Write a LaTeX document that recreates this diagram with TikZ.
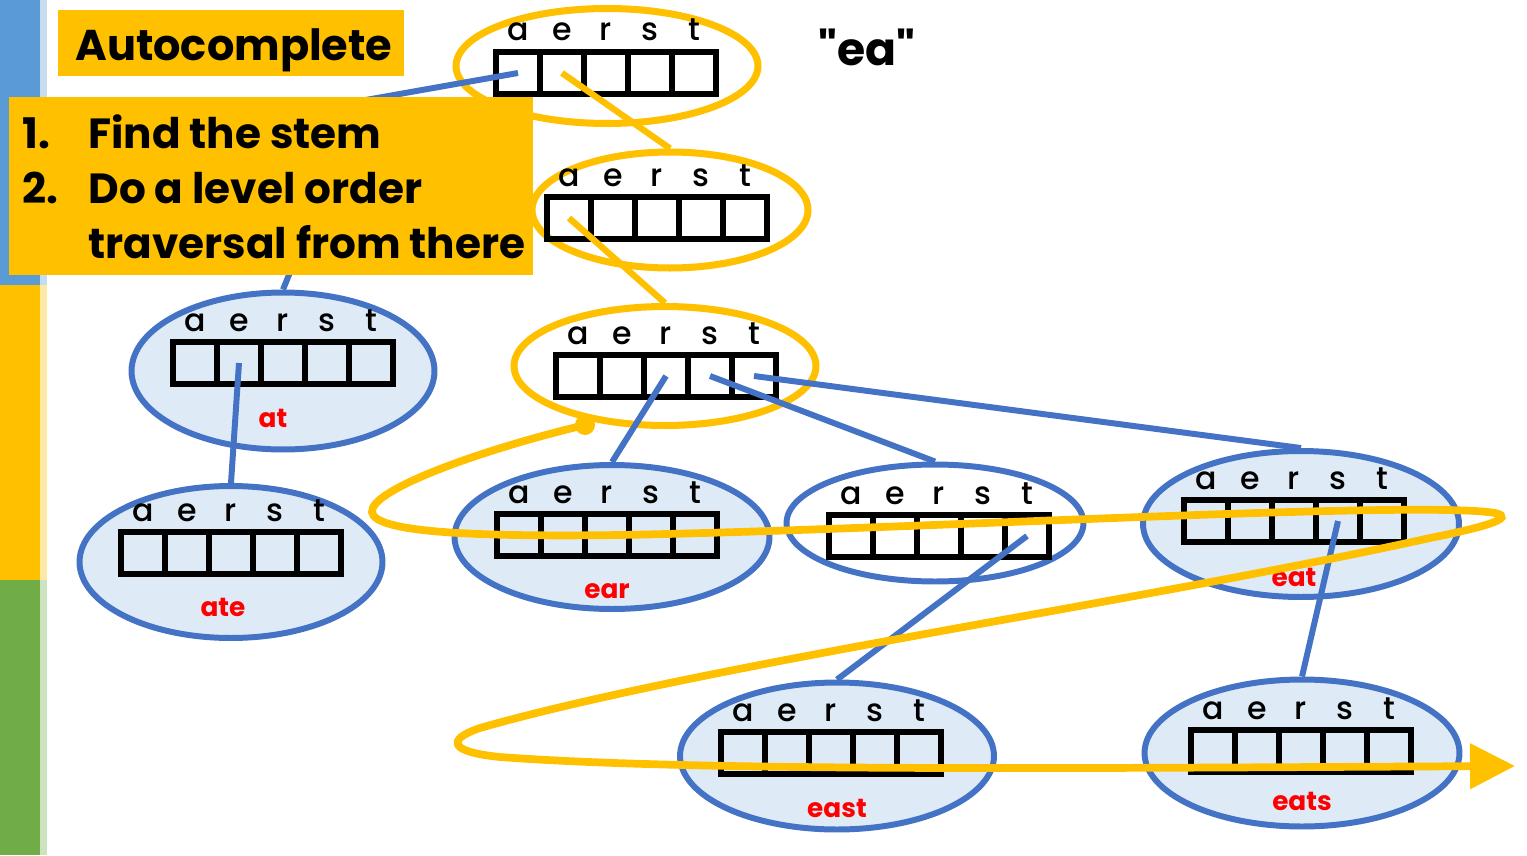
\documentclass[tikz,border=0pt]{standalone}
\usepackage{fontspec}
\setmainfont{Poppins}
\newfontfamily\medfont{Poppins Medium}
\newfontfamily\quotefont{Poppins}[Ligatures=TeXOff]
\usepackage{tikz}
\usetikzlibrary{shapes.geometric,arrows.meta}
\definecolor{tyellow}{HTML}{FFC000}
\definecolor{tblue}{HTML}{4472C4}
\definecolor{tfill}{HTML}{DEEBF7}
\definecolor{barblue}{HTML}{5B9BD5}
\definecolor{bargreen}{HTML}{70AD47}
\tikzset{
  trie/.style={ellipse,draw=tblue,fill=tfill,line width=3.4pt,inner sep=0pt},
  stem/.style={ellipse,draw=tyellow,fill=white,line width=4pt,inner sep=0pt},
  cell/.style={rectangle,draw,line width=3pt,minimum width=0.88cm,minimum height=0.84cm,inner sep=0pt},
  letter/.style={anchor=base,inner sep=0pt,font=\medfont\fontsize{18}{18}\selectfont},
  word/.style={text=red,inner sep=0pt,font=\bfseries\fontsize{15}{15}\selectfont},
  link/.style={tblue,line width=3.4pt},
  stemlink/.style={tyellow,line width=3.6pt},
  trav/.style={tyellow,line width=4.4pt,line cap=round},
  banner/.style={fill=tyellow,inner sep=0pt},
  big/.style={anchor=base west,inner sep=0pt,font=\bfseries\fontsize{24}{24}\selectfont}
}
% one row of five cells with the letters on top
\newcommand{\trierow}[3]{%
  \foreach \c [count=\i] in {a,e,r,s,t}{
    \node[cell] (#1-\c) at ({#2+44*(\i-3)},#3) {};
    \node[letter] (#1-l\c) at ({#2+44*(\i-3)},{#3-32}) {\c};
  }%
}
\begin{document}
\begin{tikzpicture}[x=0.02cm,y=-0.02cm]
  \useasboundingbox (0,0) rectangle (1527,855);

  % side bar
  \fill[barblue] (0,0) rectangle (40,285);
  \fill[tyellow] (0,285) rectangle (40,580);
  \fill[bargreen] (0,580) rectangle (40,855);
  \fill[barblue!35] (40,0) rectangle (47,285);
  \fill[tyellow!35] (40,285) rectangle (47,580);
  \fill[bargreen!35] (40,580) rectangle (47,855);

  % trie nodes
  \node[stem,minimum width=6.04cm,minimum height=2.30cm] (root) at (607,66) {};
  \node[stem,minimum width=5.52cm,minimum height=2.32cm] (a) at (670,210) {};
  \node[stem,minimum width=6.04cm,minimum height=2.38cm] (ea) at (665,366) {};
  \node[trie,minimum width=6.06cm,minimum height=3.14cm] (at) at (283,371) {};
  \node[trie,minimum width=6.06cm,minimum height=3.04cm] (ate) at (231,562) {};
  \node[trie,minimum width=6.30cm,minimum height=2.88cm] (ear) at (612,537) {};
  \node[trie,fill=white,minimum width=5.94cm,minimum height=2.34cm] (eas) at (935,523) {};
  \node[trie,minimum width=6.32cm,minimum height=2.92cm] (eat) at (1301,524) {};
  \node[trie,minimum width=6.28cm,minimum height=2.94cm] (east) at (837,756) {};
  \node[trie,minimum width=6.30cm,minimum height=2.94cm] (eats) at (1302,753) {};

  \trierow{root}{606}{73}
  \trierow{a}{657}{218}
  \trierow{ea}{666}{376}
  \trierow{at}{283}{363}
  \trierow{ate}{231}{553}
  \trierow{ear}{607}{535}
  \trierow{eas}{939}{536}
  \trierow{eat}{1294}{521}
  \trierow{east}{831}{753}
  \trierow{eats}{1301}{751}

  \node[word] (at-w) at (273,418) {at};
  \node[word] (ate-w) at (223,607) {ate};
  \node[word] (ear-w) at (607,591) {ear};
  \node[word] (eat-w) at (1294,577) {eat};
  \node[word] (east-w) at (837,808) {east};
  \node[word] (eats-w) at (1302,801) {eats};

  % children
  \draw[link] (root-a.center) -- (360,101) -- (at.north);
  \draw[link] (at-e.center) -- (ate.north);
  \draw[link] (ea-r.center) -- (ear.north);
  \draw[link] (ea-s.center) -- (eas.north);
  \draw[link] (ea-t.center) -- (eat.north);
  \draw[link] (eas-t.center) -- (east.north);
  \draw[link] (eat-s.center) -- (eats.north);
  \draw[stemlink] (root-e.center) -- (a.north);
  \draw[stemlink] (a-a.center) -- (ea.north);

  % level order walk
  \coordinate (tstart) at (585,425);
  \fill[tyellow] (tstart) circle (0.2cm);
  \draw[trav,-{Triangle[width=0.88cm,length=0.9cm]}] (tstart)
    .. controls (480,450) and (370,490) .. (372,512)
    .. controls (374,532) and (470,537) .. (620,535)
    .. controls (900,530) and (1420,500) .. (1495,513)
    .. controls (1518,518) and (1480,528) .. (1430,538)
    .. controls (1150,600) and (700,665) .. (480,728)
    .. controls (445,740) and (450,752) .. (500,757)
    .. controls (700,772) and (1100,768) .. (1515,766);

  % text boxes
  \node[banner,minimum width=6.94cm,minimum height=1.32cm] (title) at (231,43) {};
  \node[anchor=base west,inner sep=0pt,font=\bfseries\fontsize{24.5}{24.5}\selectfont] (title-t) at (75,61) {Autocomplete};
  \node[banner,minimum width=10.48cm,minimum height=3.56cm] (steps) at (271,186) {};
  \node[big] (n1) at (22,148) {1.};
  \node[big] (s1) at (88,148) {Find the stem};
  \node[big] (n2) at (22,203) {2.};
  \node[big] (s2) at (88,203) {Do a level order};
  \node[big] (s3) at (88,258) {traversal from there};
  \node[anchor=base west,inner sep=0pt,font=\quotefont\bfseries\fontsize{26}{26}\selectfont] (query) at (818,66) {"ea"};
\end{tikzpicture}
\end{document}
